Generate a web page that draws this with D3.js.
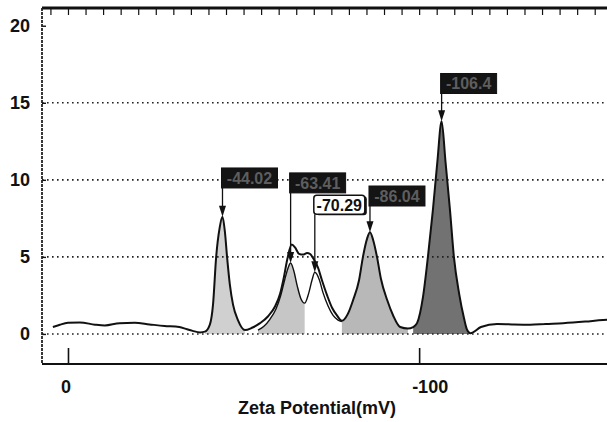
<!DOCTYPE html>
<html>
<head>
<meta charset="utf-8">
<script src="https://cdn.jsdelivr.net/npm/d3@7"></script>
<style>
  body { margin: 0; background: #fff; }
  svg { display: block; }
  text { font-family: "Liberation Sans", Arial, sans-serif; font-weight: bold; }
</style>
</head>
<body>
<div id="chart"></div>
<script>
// --- DATA ---

// main trace (thick line), zeta potential in mV
const mainZeta = [4.3, 2.3, 0, -3.4, -7.7, -10.5, -14.7, -19.0, -23.2, -27.5, -31.7, -33.9, -35.5, -37.6, -39.0,
  -40.4, -41.3, -42.2, -43.2, -44.0, -44.7, -45.3, -46.1, -47.0, -48.4, -50.4,
  -52.4, -54.7, -57.0, -59.0, -60.4, -61.5, -62.5, -63.7, -64.7, -65.8, -66.9, -68.1, -68.9, -70.1, -71.2, -72.3, -73.8, -75.2, -76.6, -78.0,
  -79.7, -81.2, -82.9, -84.0, -85.2, -86.0, -86.9, -88.0, -89.1, -90.9, -92.6, -94.6, -96.8, -98.3,
  -99.4, -101.1, -102.5, -103.9, -105.2, -106.4, -107.5, -108.8, -109.9, -111.4, -112.8, -113.6, -114.6,
  -117.6, -122.2, -126.5, -131.6, -136.0, -141.0, -147.3, -152.4, -154.0];
const mainIntensity = [0.45, 0.6, 0.72, 0.75, 0.6, 0.55, 0.7, 0.72, 0.62, 0.52, 0.45, 0.3, 0.2, 0.1, 0.15,
  0.6, 1.9, 5.0, 6.9, 7.6, 6.6, 5.0, 3.2, 1.9, 0.9, 0.25,
  0.4, 0.7, 1.15, 1.8, 2.6, 3.7, 4.9, 5.8, 5.6, 5.2, 5.15, 5.25, 5.2, 4.8, 4.3, 3.5, 2.5, 1.7, 1.2, 0.85,
  1.3, 2.2, 3.5, 5.0, 6.2, 6.6, 6.1, 5.0, 3.6, 2.2, 1.2, 0.45, 0.35, 0.45,
  0.7, 2.4, 5.0, 8.0, 11.2, 13.8, 11.2, 8.0, 5.0, 2.6, 1.0, 0.3, 0.05,
  0.45, 0.65, 0.62, 0.6, 0.65, 0.7, 0.8, 0.9, 0.92];

// second trace (thin line) in the middle
const innerZeta = [-54.1, -55.8, -57.5, -59.2, -60.6, -61.7, -62.7, -63.4, -64.3, -65.3, -66.3, -67.4,
  -68.5, -69.5, -70.29, -71.6, -72.6, -74.1, -75.5, -76.9, -78.0];
const innerIntensity = [0.25, 0.5, 0.95, 1.6, 2.5, 3.5, 4.3, 4.6, 4.1, 3.1, 2.3, 2.0,
  2.6, 3.5, 4.0, 3.5, 2.7, 1.8, 1.2, 0.9, 0.8];

// shaded peaks: range in mV and which trace gives the top
const fillFrom = [-39.0, -54.1, -78.0, -97.0];
const fillTo = [-50.4, -67.4, -97.0, -114.6];
const fillTrace = ["main", "inner", "main", "main"];

// peak markers
const peakZeta = [-44.0, -63.4, -70.29, -86.0, -106.4];
const peakHeight = [7.6, 4.6, 4.0, 6.6, 13.8];
const peakLabel = ["-44.02", "-63.41", "-70.29", "-86.04", "-106.4"];
const labelLevel = [10.77, 10.45, 9.0, 9.6, 16.9];
const highlighted = 2;

const yTicks = [0, 5, 10, 15, 20];
const yGrid = [0, 5, 10, 15];
const xMinorTicks = d3.range(0, -151, -10);
const xMajorTicks = [0, -100];
const xTickLabels = ["0", "-100"];
const xTitle = "Zeta Potential(mV)";

// --- LAYOUT ---

const W = 607, H = 422;
const plot = {left: 42, right: 607, top: 8, bottom: 364};
const shades = ["#d0d0d0", "#c6c6c6", "#b8b8b8", "#727272"];

const svg = d3.select("#chart").append("svg")
  .attr("width", W)
  .attr("height", H);

const x = d3.scaleLinear().domain([7.4, -153.5]).range([plot.left, plot.right]);
const y = d3.scaleLinear().domain([-1.95, 21.15]).range([plot.bottom, plot.top]);

const mainData = mainZeta.map((z, i) => ({z: z, v: mainIntensity[i]}));
const innerData = innerZeta.map((z, i) => ({z: z, v: innerIntensity[i]}));

const line = d3.line().x(d => x(d.z)).y(d => y(d.v)).curve(d3.curveMonotoneX);
const area = d3.area().x(d => x(d.z)).y0(y(0)).y1(d => y(d.v)).curve(d3.curveMonotoneX);

// shaded peaks
fillFrom.forEach((from, i) => {
  const src = fillTrace[i] === "main" ? mainData : innerData;
  const part = src.filter(d => d.z <= from + 1e-6 && d.z >= fillTo[i] - 1e-6);
  svg.append("path")
    .attr("d", area(part))
    .attr("fill", shades[i]);
});

// dotted grid
svg.append("g")
  .selectAll("line")
  .data(yGrid)
  .join("line")
  .attr("x1", plot.left)
  .attr("x2", plot.right)
  .attr("y1", d => y(d))
  .attr("y2", d => y(d))
  .attr("stroke", "#222")
  .attr("stroke-width", 1.6)
  .attr("stroke-dasharray", "1.6,3.4");

// traces
svg.append("path")
  .attr("d", line(innerData))
  .attr("fill", "none")
  .attr("stroke", "#111")
  .attr("stroke-width", 1.4);

svg.append("path")
  .attr("d", line(mainData))
  .attr("fill", "none")
  .attr("stroke", "#111")
  .attr("stroke-width", 2);

// top frame with dense ticks
const topG = svg.append("g").attr("transform", `translate(0,${plot.top})`);
topG.call(d3.axisBottom(x).tickValues(d3.range(7, -154, -1)).tickSize(4).tickFormat(""));
topG.call(d3.axisBottom(x).tickValues(d3.range(5, -154, -5)).tickSize(7).tickFormat(""));
topG.selectAll(".domain").remove();
topG.selectAll("line").attr("stroke", "#111").attr("stroke-width", 1.2);
svg.append("line")
  .attr("x1", plot.left).attr("x2", plot.right)
  .attr("y1", plot.top).attr("y2", plot.top)
  .attr("stroke", "#111").attr("stroke-width", 3);

// bottom axis
const botG = svg.append("g").attr("transform", `translate(0,${plot.bottom})`);
botG.call(d3.axisTop(x).tickValues(xMinorTicks).tickSize(8).tickFormat(""));
botG.call(d3.axisTop(x).tickValues(xMajorTicks).tickSize(16).tickFormat(""));
botG.selectAll(".domain").remove();
botG.selectAll("line").attr("stroke", "#111").attr("stroke-width", 1.6);
svg.append("line")
  .attr("x1", plot.left).attr("x2", plot.right)
  .attr("y1", plot.bottom).attr("y2", plot.bottom)
  .attr("stroke", "#111").attr("stroke-width", 2);

svg.append("g")
  .selectAll("text")
  .data(xMajorTicks)
  .join("text")
  .attr("x", d => x(d) - 7)
  .attr("y", 393)
  .attr("font-size", 18)
  .attr("fill", "#111")
  .text((d, i) => xTickLabels[i]);

svg.append("text")
  .attr("x", 317)
  .attr("y", 414)
  .attr("text-anchor", "middle")
  .attr("font-size", 18)
  .attr("fill", "#111")
  .text(xTitle);

// left axis
const leftG = svg.append("g").attr("transform", `translate(${plot.left},0)`);
leftG.call(d3.axisLeft(y).tickValues(yTicks).tickSize(0).tickPadding(12));
leftG.call(g => g.selectAll(".domain").remove());
leftG.selectAll("text")
  .attr("font-size", 18)
  .attr("font-family", null)
  .attr("fill", "#111");
leftG.attr("font-family", null).attr("font-size", null);
const leftTicks = svg.append("g").attr("transform", `translate(${plot.left},0)`);
leftTicks.call(d3.axisRight(y).tickValues(yTicks).tickSize(4).tickFormat(""));
leftTicks.selectAll(".domain").remove();
leftTicks.selectAll("line").attr("stroke", "#111").attr("stroke-width", 1.4);
svg.append("line")
  .attr("x1", plot.left).attr("x2", plot.left)
  .attr("y1", plot.top).attr("y2", plot.bottom)
  .attr("stroke", "#222").attr("stroke-width", 1.8)
  .attr("stroke-dasharray", "3,1");

// peak markers
const markers = svg.append("g");
peakZeta.forEach((z, i) => {
  const px = x(z), py = y(peakHeight[i]);
  const top = y(labelLevel[i]);
  const isHi = i === highlighted;
  const bw = isHi ? 51 : 56, bh = isHi ? 19 : 20;

  markers.append("line")
    .attr("x1", px).attr("x2", px)
    .attr("y1", top + bh).attr("y2", py - 9)
    .attr("stroke", "#111").attr("stroke-width", 1.3);
  markers.append("path")
    .attr("d", `M${px - 3.5},${py - 11}L${px + 3.5},${py - 11}L${px},${py}Z`)
    .attr("fill", "#111");

  if (isHi) {
    markers.append("rect")
      .attr("x", px + 1).attr("y", top + 1)
      .attr("width", bw).attr("height", bh)
      .attr("rx", 3).attr("fill", "#111");
  }
  markers.append("rect")
    .attr("x", px - 1).attr("y", top)
    .attr("width", bw).attr("height", bh)
    .attr("rx", isHi ? 3 : 0)
    .attr("fill", isHi ? "#fff" : "#141414")
    .attr("stroke", "#111")
    .attr("stroke-width", isHi ? 1.5 : 1);
  markers.append("text")
    .attr("x", px - 1 + bw / 2)
    .attr("y", top + bh / 2)
    .attr("dy", "0.36em")
    .attr("text-anchor", "middle")
    .attr("font-size", isHi ? 16 : 16)
    .attr("fill", isHi ? "#111" : "#5e5e5e")
    .text(peakLabel[i]);
});
</script>
</body>
</html>
